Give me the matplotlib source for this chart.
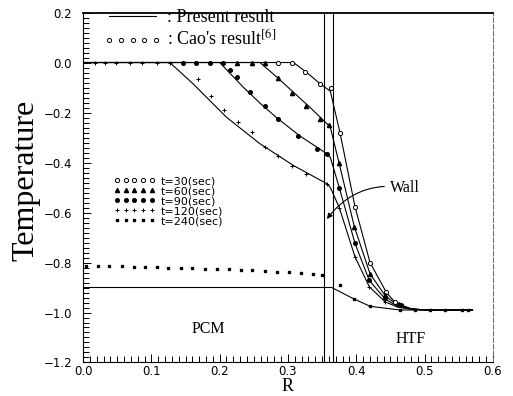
import numpy as np
import matplotlib
matplotlib.use("Agg")
import matplotlib.pyplot as plt
from matplotlib.ticker import MultipleLocator
from matplotlib.lines import Line2D

plt.rcParams['mathtext.fontset'] = 'stix'

# Present result (solid lines)
r_30 = [0.0, 0.308, 0.327, 0.347, 0.357, 0.362, 0.376, 0.398, 0.420, 0.444, 0.457, 0.48, 0.50, 0.57]
t_30 = [0.0, 0.0, -0.039, -0.085, -0.105, -0.115, -0.28, -0.576, -0.80, -0.92, -0.96, -0.985, -0.99, -0.99]
r_60 = [0.0, 0.259, 0.284, 0.308, 0.332, 0.357, 0.362, 0.375, 0.397, 0.420, 0.442, 0.46, 0.48, 0.50, 0.57]
t_60 = [0.0, 0.0, -0.059, -0.119, -0.179, -0.245, -0.26, -0.405, -0.656, -0.845, -0.932, -0.97, -0.985, -0.99, -0.99]
r_90 = [0.0, 0.20, 0.235, 0.26, 0.284, 0.318, 0.357, 0.362, 0.375, 0.398, 0.419, 0.442, 0.46, 0.48, 0.50, 0.57]
t_90 = [0.0, 0.0, -0.10, -0.165, -0.222, -0.295, -0.365, -0.38, -0.50, -0.723, -0.872, -0.945, -0.975, -0.985, -0.99, -0.99]
r_120 = [0.0, 0.127, 0.161, 0.210, 0.259, 0.308, 0.357, 0.362, 0.375, 0.398, 0.419, 0.442, 0.46, 0.48, 0.50, 0.57]
t_120 = [0.0, 0.0, -0.085, -0.219, -0.325, -0.412, -0.485, -0.50, -0.58, -0.777, -0.897, -0.957, -0.978, -0.987, -0.99, -0.99]
r_240 = [0.0, 0.364, 0.396, 0.420, 0.440, 0.464, 0.57]
t_240 = [-0.90, -0.90, -0.945, -0.975, -0.982, -0.99, -0.99]

# Cao's result (markers)
cr_30 = [0.286, 0.306, 0.325, 0.347, 0.363, 0.376, 0.398, 0.420, 0.444, 0.457]
ct_30 = [0.0, 0.0, -0.037, -0.085, -0.10, -0.28, -0.576, -0.80, -0.917, -0.957]
cr_60 = [0.225, 0.247, 0.266, 0.286, 0.306, 0.327, 0.347, 0.360, 0.375, 0.397, 0.420, 0.442, 0.462]
ct_60 = [0.0, 0.0, 0.0, -0.061, -0.121, -0.172, -0.225, -0.25, -0.40, -0.656, -0.845, -0.93, -0.965]
cr_90 = [0.147, 0.166, 0.186, 0.205, 0.215, 0.225, 0.245, 0.266, 0.286, 0.315, 0.342, 0.357, 0.375, 0.398, 0.419, 0.442, 0.465]
ct_90 = [0.0, 0.0, 0.0, 0.0, -0.03, -0.056, -0.119, -0.172, -0.225, -0.292, -0.345, -0.365, -0.50, -0.72, -0.87, -0.942, -0.97]
cr_120 = [0.0, 0.017, 0.032, 0.049, 0.069, 0.086, 0.108, 0.127, 0.169, 0.188, 0.206, 0.227, 0.247,
          0.266, 0.286, 0.306, 0.327, 0.357, 0.375, 0.398, 0.419, 0.442, 0.468]
ct_120 = [0.0, 0.0, 0.0, 0.0, 0.0, 0.0, 0.0, 0.0, -0.065, -0.132, -0.188, -0.239, -0.279,
          -0.336, -0.372, -0.412, -0.445, -0.485, -0.58, -0.777, -0.897, -0.957, -0.974]
cr_240 = [0.005, 0.022, 0.038, 0.057, 0.074, 0.090, 0.108, 0.125, 0.143, 0.160, 0.178, 0.196, 0.213,
          0.231, 0.248, 0.266, 0.284, 0.301, 0.319, 0.336, 0.350, 0.376, 0.396, 0.420, 0.464, 0.486,
          0.508, 0.530, 0.554, 0.564]
ct_240 = [-0.812, -0.813, -0.814, -0.815, -0.816, -0.817, -0.818, -0.820, -0.821, -0.822, -0.824, -0.825,
          -0.827, -0.829, -0.831, -0.833, -0.836, -0.839, -0.842, -0.845, -0.848, -0.888, -0.945, -0.975,
          -0.99, -0.99, -0.99, -0.99, -0.99, -0.99]

wall_r = [0.353, 0.366]
tiempos = ["t=30(sec)", "t=60(sec)", "t=90(sec)", "t=120(sec)", "t=240(sec)"]

fig = plt.figure(figsize=(5.13, 3.96), dpi=100)
ax = fig.add_axes([0.1618, 0.0846, 0.7992, 0.8838])

# lineas del resultado presente
for r, t in [(r_30, t_30), (r_60, t_60), (r_90, t_90), (r_120, t_120), (r_240, t_240)]:
    ax.plot(r, t, color='black', lw=0.8)

# puntos de Cao
h1, = ax.plot(cr_30, ct_30, ls='none', marker='o', ms=3, mfc='white', mec='black', mew=0.7)
h2, = ax.plot(cr_60, ct_60, ls='none', marker='^', ms=3, color='black')
h3, = ax.plot(cr_90, ct_90, ls='none', marker='o', ms=2.6, color='black')
h4, = ax.plot(cr_120, ct_120, ls='none', marker='+', ms=3.5, color='black', mew=0.7)
h5, = ax.plot(cr_240, ct_240, ls='none', marker='s', ms=1.8, color='black')

# pared
ax.axvline(wall_r[0], color='black', lw=0.8)
ax.axvline(wall_r[1], color='black', lw=0.8)

ax.set_xlim(0.0, 0.6)
ax.set_ylim(-1.2, 0.2)
ax.set_xticks(np.arange(0.0, 0.61, 0.1))
ax.set_yticks(np.arange(-1.2, 0.21, 0.2))
ax.xaxis.set_minor_locator(MultipleLocator(0.01))
ax.yaxis.set_minor_locator(MultipleLocator(0.02))
ax.tick_params(which='both', direction='in', top=False, right=False, width=0.7, labelsize=8.5)
ax.tick_params(which='major', length=6)
ax.tick_params(which='minor', length=4)
ax.tick_params(axis='y', pad=8)
ax.tick_params(axis='x', pad=2)
ax.spines['right'].set_linestyle((0, (4, 2)))
ax.spines['right'].set_color('0.45')
ax.spines['top'].set_linewidth(1.3)

ax.set_xlabel("R", family='Liberation Serif', fontsize=13, labelpad=0)
ax.set_ylabel("Temperature", family='Liberation Serif', fontsize=23)
ax.yaxis.set_label_coords(-0.105, 0.52)

ax.text(0.184, -1.068, "PCM", family='Liberation Serif', fontsize=11.5, ha='center', va='center')
ax.text(0.479, -1.107, "HTF", family='Liberation Serif', fontsize=11.5, ha='center', va='center')
ax.annotate("Wall", xy=(0.357, -0.626), xytext=(0.449, -0.50),
            family='Liberation Serif', fontsize=11.5, ha='left', va='center',
            arrowprops=dict(arrowstyle='-|>', connectionstyle='arc3,rad=0.3',
                            color='black', lw=0.8, shrinkA=2, shrinkB=0, mutation_scale=8))

# leyendas
lp = Line2D([], [], color='black', lw=0.8)
lc = Line2D([], [], ls='none', marker='o', ms=3, mfc='white', mec='black', mew=0.7)
leg1 = ax.legend([lp, lc], [": Present result", ": Cao's result$^{[6]}$"], loc='upper left',
                 bbox_to_anchor=(0.02, 1.045), frameon=False, numpoints=5, handlelength=3.2,
                 handletextpad=0.3, labelspacing=0.2, borderpad=0.2,
                 prop={'family': 'Liberation Serif', 'size': 13})
ax.add_artist(leg1)
ax.legend([h1, h2, h3, h4, h5], tiempos, loc='upper left', bbox_to_anchor=(0.055, 0.555),
          frameon=False, numpoints=5, handlelength=3.8, handletextpad=0.5, labelspacing=0.0,
          borderpad=0.2, prop={'size': 8})

fig.savefig("out.png", dpi=100)
